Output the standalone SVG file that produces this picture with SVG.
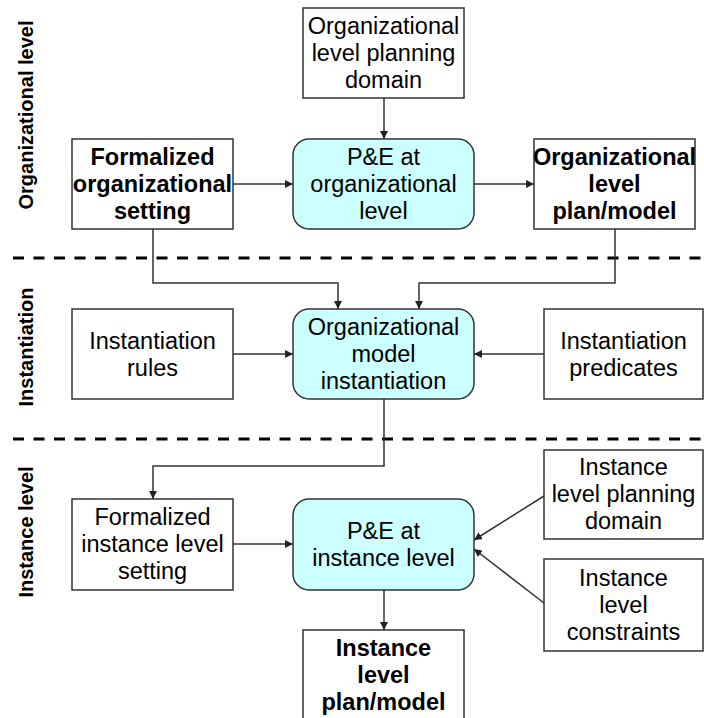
<svg xmlns="http://www.w3.org/2000/svg" width="704" height="718" viewBox="0 0 704 718">
<defs>
<marker id="ah" viewBox="0 0 10 10" refX="10" refY="5" markerWidth="8" markerHeight="8" markerUnits="userSpaceOnUse" orient="auto">
<path d="M0,0 L10,5 L0,10 z" fill="#222"/>
</marker>
<style>
.box{fill:#fff;stroke:#333;stroke-width:1.5}
.pe{fill:#ccffff;stroke:#333;stroke-width:1.5}
.t{font-family:"Liberation Sans",Arial,sans-serif;font-size:23.5px;fill:#000;text-anchor:middle}
.b{font-weight:bold}
.lab{font-family:"Liberation Sans",Arial,sans-serif;font-size:20px;font-weight:bold;fill:#000;text-anchor:middle}
.c{fill:none;stroke:#333;stroke-width:1.5}
.ca{fill:none;stroke:#333;stroke-width:1.5;marker-end:url(#ah)}
.dash{stroke:#000;stroke-width:3;stroke-dasharray:11 9.5}
</style>
</defs>
<rect width="704" height="718" fill="#fff"/>
<g id="separators">
<line class="dash" x1="13" y1="258" x2="703" y2="258"/>
<line class="dash" x1="13" y1="439" x2="703" y2="439"/>
</g>
<g id="lane-labels">
<text class="lab" transform="translate(33,115) rotate(-90)">Organizational level</text>
<text class="lab" transform="translate(33,347) rotate(-90)">Instantiation</text>
<text class="lab" transform="translate(33,532) rotate(-90)">Instance level</text>
</g>
<g id="connectors">
<path class="ca" d="M384,98 V139"/>
<path class="ca" d="M233,184 H293"/>
<path class="ca" d="M474,184 H534"/>
<path class="ca" d="M153,229 V283 H338 V309"/>
<path class="ca" d="M615,229 V283 H419 V309"/>
<path class="ca" d="M233,354 H293"/>
<path class="ca" d="M544,354 H474"/>
<path class="ca" d="M384,399 V466 H153 V499"/>
<path class="ca" d="M233,544 H293"/>
<path class="ca" d="M544,496 L474,540"/>
<path class="ca" d="M544,603 L474,549"/>
<path class="ca" d="M384,590 V630"/>
</g>
<g id="org-planning-domain">
<rect class="box" x="303" y="8" width="161" height="90"/>
<text class="t" x="383.5" y="34">Organizational</text>
<text class="t" x="383.5" y="61">level planning</text>
<text class="t" x="383.5" y="88">domain</text>
</g>
<g id="formalized-org-setting">
<rect class="box" x="72" y="139" width="161" height="90"/>
<text class="t b" x="152.5" y="165">Formalized</text>
<text class="t b" x="152.5" y="192">organizational</text>
<text class="t b" x="152.5" y="219">setting</text>
</g>
<g id="pe-org">
<rect class="pe" x="293" y="139" width="181" height="90" rx="16" ry="16"/>
<text class="t" x="383.5" y="165">P&amp;E at</text>
<text class="t" x="383.5" y="192">organizational</text>
<text class="t" x="383.5" y="219">level</text>
</g>
<g id="org-plan-model">
<rect class="box" x="534" y="139" width="161" height="90"/>
<text class="t b" x="614.5" y="165">Organizational</text>
<text class="t b" x="614.5" y="192">level</text>
<text class="t b" x="614.5" y="219">plan/model</text>
</g>
<g id="instantiation-rules">
<rect class="box" x="72" y="309" width="161" height="90"/>
<text class="t" x="152.5" y="349">Instantiation</text>
<text class="t" x="152.5" y="376">rules</text>
</g>
<g id="org-model-instantiation">
<rect class="pe" x="293" y="309" width="181" height="90" rx="16" ry="16"/>
<text class="t" x="383.5" y="335">Organizational</text>
<text class="t" x="383.5" y="362">model</text>
<text class="t" x="383.5" y="389">instantiation</text>
</g>
<g id="instantiation-predicates">
<rect class="box" x="544" y="309" width="159" height="90"/>
<text class="t" x="623.5" y="349">Instantiation</text>
<text class="t" x="623.5" y="376">predicates</text>
</g>
<g id="formalized-instance-setting">
<rect class="box" x="72" y="499" width="161" height="91"/>
<text class="t" x="152.5" y="525">Formalized</text>
<text class="t" x="152.5" y="552">instance level</text>
<text class="t" x="152.5" y="579">setting</text>
</g>
<g id="pe-instance">
<rect class="pe" x="293" y="499" width="181" height="91" rx="16" ry="16"/>
<text class="t" x="383.5" y="539">P&amp;E at</text>
<text class="t" x="383.5" y="566">instance level</text>
</g>
<g id="instance-planning-domain">
<rect class="box" x="544" y="450" width="159" height="89"/>
<text class="t" x="623.5" y="475">Instance</text>
<text class="t" x="623.5" y="502">level planning</text>
<text class="t" x="623.5" y="529">domain</text>
</g>
<g id="instance-constraints">
<rect class="box" x="544" y="559" width="159" height="92"/>
<text class="t" x="623.5" y="586">Instance</text>
<text class="t" x="623.5" y="613">level</text>
<text class="t" x="623.5" y="640">constraints</text>
</g>
<g id="instance-plan-model">
<rect class="box" x="303" y="630" width="161" height="95"/>
<text class="t b" x="383.5" y="656">Instance</text>
<text class="t b" x="383.5" y="683">level</text>
<text class="t b" x="383.5" y="710">plan/model</text>
</g>
</svg>
